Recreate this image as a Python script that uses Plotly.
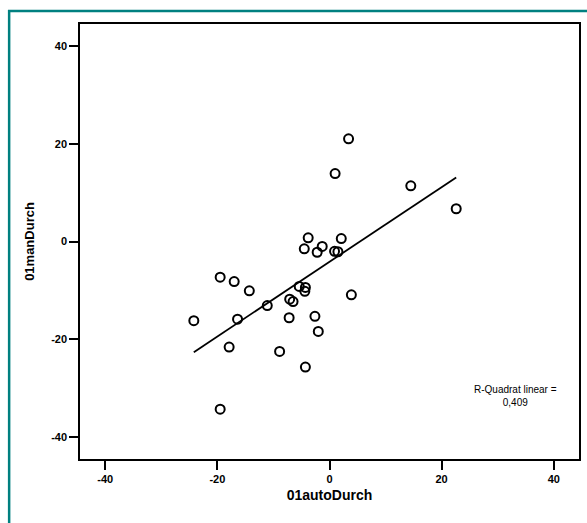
import numpy as np
import plotly.graph_objects as go

# Scatter data (01autoDurch vs 01manDurch)
auto_durch = [3.4, 1.0, 14.5, 22.6, -3.8, 2.1, -4.5, -1.3, -2.2, 0.9, 1.5,
              -19.5, -17.0, -14.3, -5.4, -4.3, -4.4, 3.9, -7.1, -6.5, -11.1,
              -24.2, -16.4, -7.2, -2.6, -2.0, -17.9, -8.9, -4.3, -19.5]
man_durch = [21.0, 13.9, 11.4, 6.7, 0.75, 0.6, -1.5, -1.0, -2.2, -2.0, -2.1,
             -7.3, -8.2, -10.1, -9.2, -9.4, -10.2, -10.9, -11.8, -12.3, -13.1,
             -16.2, -15.9, -15.6, -15.3, -18.4, -21.6, -22.5, -25.7, -34.3]

x_ticks = [-40, -20, 0, 20, 40]
x_tick_labels = ["-40", "-20", "0", "20", "40"]
y_ticks = [-40, -20, 0, 20, 40]
y_tick_labels = ["-40", "-20", "0", "20", "40"]
r2_text = "R-Quadrat linear =<br>0,409"

x = np.array(auto_durch)
y = np.array(man_durch)
slope, intercept = np.polyfit(x, y, 1)
fx = np.array([x.min(), x.max()])
fy = slope * fx + intercept

FONT = "Liberation Sans, Arial, sans-serif"

fig = go.Figure()
fig.add_trace(go.Scatter(
    x=fx, y=fy, mode="lines",
    line=dict(color="black", width=1.8),
    showlegend=False, hoverinfo="skip"))
fig.add_trace(go.Scatter(
    x=auto_durch, y=man_durch, mode="markers",
    marker=dict(symbol="circle-open", size=9, color="black",
                line=dict(width=2, color="black")),
    showlegend=False))

axis_common = dict(
    showgrid=False, zeroline=False, showline=True, linecolor="black",
    linewidth=1.5, mirror=True, ticks="outside", ticklen=9, tickwidth=1.5,
    tickcolor="black", tickfont=dict(family=FONT, size=11, color="black",
                                     weight="bold"),
)

fig.update_layout(
    width=587, height=523,
    margin=dict(l=80, r=6, t=24, b=64),
    paper_bgcolor="white", plot_bgcolor="white",
    xaxis=dict(range=[-44.5, 44.5], tickvals=x_ticks, ticktext=x_tick_labels,
               title=dict(text="<b>01autoDurch</b>", standoff=6,
                          font=dict(family=FONT, size=14, color="black")),
               **axis_common),
    yaxis=dict(range=[-44.5, 44.5], tickvals=y_ticks, ticktext=y_tick_labels,
               title=dict(text="<b>01manDurch</b>", standoff=14,
                          font=dict(family=FONT, size=13, color="black")),
               **axis_common),
    annotations=[dict(x=33.2, y=-31.6, xref="x", yref="y", text=r2_text,
                      showarrow=False, align="center",
                      font=dict(family=FONT, size=10, color="black"))],
    shapes=[dict(type="rect", xref="paper", yref="paper",
                 x0=-0.142, x1=1.06, y0=-0.2, y1=1.03,
                 line=dict(color="#008080", width=2.5), layer="above")],
)

fig.write_html("out.html")
